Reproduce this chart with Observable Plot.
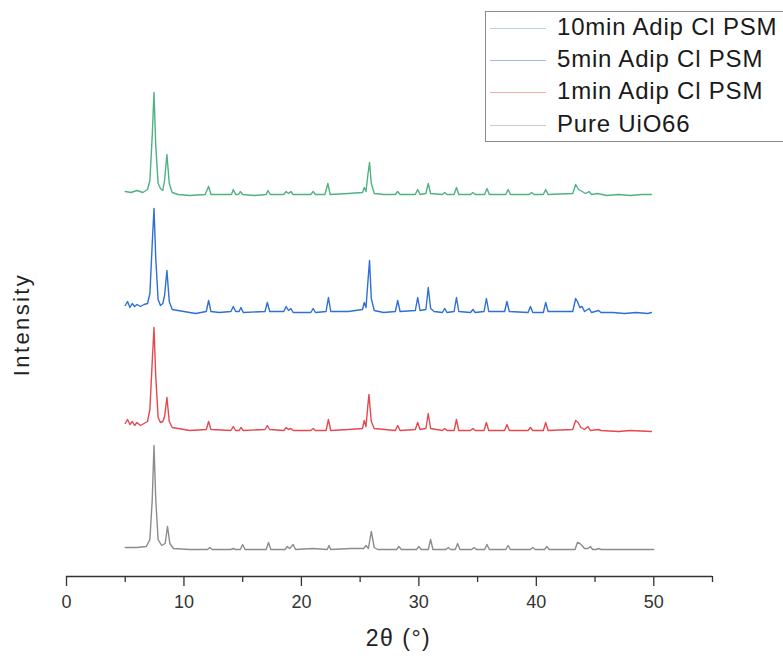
<!DOCTYPE html>
<html>
<head>
<meta charset="utf-8">
<script src="https://cdn.jsdelivr.net/npm/d3@7"></script>
<script src="https://cdn.jsdelivr.net/npm/@observablehq/plot@0.6"></script>
<style>
  html, body { margin: 0; padding: 0; background: #fff; overflow: hidden; }
  #wrap { position: relative; width: 783px; height: 658px; overflow: hidden; font-family: "Liberation Sans", Arial, sans-serif; }
  #legend { position: absolute; left: 485px; top: 11px; width: 320px; height: 131px; border: 1px solid #8a8a8a; box-sizing: border-box; background: #fff; }
  .item { position: absolute; left: 0; height: 30px; }
  .sw { position: absolute; left: 4px; width: 56px; top: 0; border-top: 1.3px solid; }
  .lab { position: absolute; left: 71px; top: -16px; font-size: 24px; letter-spacing: 0.8px; color: #1a1a1a; white-space: nowrap; line-height: 30px; }
</style>
</head>
<body>
<div id="wrap"><div id="chart"></div><div id="legend"></div></div>
<script>
// Series names (legend order, top to bottom)
const seriesNames = ["10min Adip Cl PSM", "5min Adip Cl PSM", "1min Adip Cl PSM", "Pure UiO66"];
// Vertical stacking offsets (a.u.)
const offsets = [381, 263, 145, 27];
// x-axis ticks
const xMajorTicks = [0, 10, 20, 30, 40, 50];
const xMinorTicks = [5, 15, 25, 35, 45, 55];

// [2θ (°), intensity (a.u.) above its baseline]
const min10 = [[5.0,4],[5.5,3],[6.0,5],[6.5,3],[6.9,6],[7.1,15],[7.3,60],[7.45,103],[7.6,50],[7.8,12],[8.0,7],[8.2,5],[8.35,15],[8.55,41],[8.75,12],[9.0,3],[9.5,1],[10.5,0],[11.8,1],[12.1,9],[12.3,1],[13.5,1],[14.05,1],[14.2,6],[14.4,1],[14.65,1],[14.8,4],[15.0,1],[16.0,0],[17.0,1],[17.15,5],[17.35,1],[18.5,1],[18.7,4],[18.9,2],[19.1,4],[19.3,1],[20.8,1],[21.0,4],[21.2,1],[22.0,1],[22.25,12],[22.45,1],[24.0,2],[25.2,3],[25.35,8],[25.5,4],[25.65,20],[25.8,33],[25.95,12],[26.2,2],[27.0,1],[28.0,1],[28.2,4],[28.4,1],[29.7,1],[29.9,6],[30.1,1],[30.6,2],[30.8,12],[31.0,2],[32.0,1],[32.2,3],[32.4,1],[33.0,1],[33.2,8],[33.4,1],[34.4,1],[34.6,3],[34.8,1],[35.6,1],[35.8,7],[36.0,1],[37.4,1],[37.6,6],[37.8,1],[39.4,1],[39.6,3],[39.8,1],[40.6,1],[40.8,6],[41.0,1],[43.1,2],[43.35,11],[43.6,6],[43.9,4],[44.2,2],[44.5,4],[44.7,1],[45.2,2],[46.0,0],[47.0,1],[48.0,0],[49.0,1],[49.8,1]];
const min5 = [[5.0,8],[5.2,12],[5.4,6],[5.6,10],[5.8,7],[6.0,9],[6.3,7],[6.6,9],[6.9,10],[7.1,20],[7.3,70],[7.45,105],[7.6,55],[7.8,14],[8.0,8],[8.2,10],[8.35,18],[8.55,43],[8.75,12],[9.0,4],[9.5,3],[10.5,1],[11.0,0],[11.9,2],[12.1,13],[12.3,2],[13.0,1],[14.0,2],[14.2,7],[14.4,2],[14.7,2],[14.85,6],[15.05,1],[16.9,2],[17.1,11],[17.3,2],[18.5,2],[18.7,7],[18.9,3],[19.1,5],[19.3,1],[20.8,1],[21.0,5],[21.2,1],[22.1,2],[22.3,16],[22.5,2],[24.0,2],[25.2,4],[25.35,11],[25.5,6],[25.65,30],[25.8,53],[25.95,15],[26.2,3],[27.0,1],[28.0,2],[28.2,13],[28.4,2],[29.7,3],[29.9,16],[30.1,3],[30.6,4],[30.8,26],[31.0,5],[31.3,2],[32.0,1],[32.2,5],[32.4,1],[33.0,2],[33.2,16],[33.4,2],[34.4,1],[34.6,4],[34.8,1],[35.55,2],[35.75,15],[35.95,2],[37.3,2],[37.5,12],[37.7,2],[39.3,1],[39.5,7],[39.7,1],[40.6,1],[40.8,11],[41.0,2],[43.1,2],[43.35,15],[43.5,12],[43.7,6],[43.9,7],[44.1,2],[44.5,5],[44.7,1],[45.3,3],[45.5,1],[46.5,1],[47.5,0],[48.5,1],[49.5,0],[49.8,1]];
const min1 = [[5.0,8],[5.2,12],[5.4,7],[5.6,10],[5.8,6],[6.0,9],[6.3,6],[6.6,8],[6.9,10],[7.1,22],[7.3,70],[7.45,104],[7.6,55],[7.8,14],[8.0,9],[8.2,10],[8.35,15],[8.55,34],[8.75,10],[9.0,4],[9.5,3],[10.5,1],[11.9,2],[12.1,10],[12.3,2],[14.0,1],[14.2,5],[14.4,1],[14.7,1],[14.85,4],[15.05,1],[16.9,2],[17.1,6],[17.3,2],[18.5,1],[18.7,4],[18.9,2],[19.1,3],[19.3,1],[20.8,1],[21.0,3],[21.2,1],[22.1,1],[22.3,12],[22.5,1],[24.0,2],[25.2,3],[25.35,11],[25.5,5],[25.65,25],[25.75,37],[25.95,10],[26.2,3],[28.0,1],[28.2,6],[28.4,1],[29.7,2],[29.9,9],[30.1,2],[30.6,3],[30.8,18],[31.0,3],[32.0,1],[32.2,3],[32.4,1],[33.0,1],[33.2,12],[33.4,1],[34.4,1],[34.6,3],[34.8,1],[35.55,1],[35.75,9],[35.95,1],[37.3,1],[37.5,7],[37.7,1],[39.3,1],[39.5,4],[39.7,1],[40.6,1],[40.8,9],[41.0,1],[43.1,2],[43.35,11],[43.55,9],[43.8,4],[44.1,2],[44.4,5],[44.6,1],[45.3,2],[45.5,1],[47.0,0],[48.0,1],[49.8,0]];
const pure = [[5.0,2],[6.0,2],[6.8,3],[7.1,10],[7.3,50],[7.45,104],[7.6,50],[7.8,10],[8.1,4],[8.4,6],[8.6,23],[8.8,6],[9.1,1],[10.5,0],[12.0,0],[12.2,2],[12.4,0],[14.0,0],[14.2,1],[14.4,0],[14.8,0],[15.0,5],[15.2,0],[17.0,0],[17.2,7],[17.4,0],[18.6,0],[18.8,3],[19.0,1],[19.3,5],[19.5,0],[21.0,1],[22.2,0],[22.35,4],[22.5,0],[24.2,1],[25.3,1],[25.5,4],[25.7,1],[25.95,18],[26.2,2],[26.5,0],[28.1,0],[28.3,3],[28.5,0],[29.8,0],[30.0,3],[30.2,0],[30.8,0],[31.0,10],[31.2,0],[32.3,0],[32.5,2],[32.7,0],[33.1,0],[33.3,6],[33.5,0],[34.5,0],[34.7,2],[34.9,0],[35.6,0],[35.8,5],[36.0,0],[37.4,0],[37.6,4],[37.8,0],[39.5,0],[39.7,2],[39.9,0],[40.7,0],[40.9,3],[41.1,0],[43.3,0],[43.5,7],[43.7,6],[43.9,4],[44.1,1],[44.4,1],[44.6,3],[44.8,0],[45.1,0],[45.3,1],[45.5,0],[50.0,0]];

const seriesData = [min10, min5, min1, pure];
const colors = ["#4fb282", "#2e6fd8", "#e5484f", "#8c8c8c"];

const rows = [];
seriesData.forEach((arr, i) => {
  arr.forEach(([x, v]) => rows.push({series: seriesNames[i], x, y: offsets[i] + v}));
});

const chart = Plot.plot({
  width: 783,
  height: 658,
  marginLeft: 66,
  marginRight: 71,
  marginTop: 0,
  marginBottom: 82,
  style: {fontFamily: "'Liberation Sans', Arial, sans-serif", color: "#333", background: "#fff"},
  x: {domain: [0, 55]},
  y: {domain: [0, 576], axis: null},
  color: {domain: seriesNames, range: colors},
  marks: [
    Plot.line(rows, {x: "x", y: "y", z: "series", stroke: "series", strokeWidth: 1.4}),
    Plot.ruleY([0], {stroke: "#333", strokeWidth: 1.5}),
    Plot.axisX({ticks: xMajorTicks, tickSize: 10, tickPadding: 9, fontSize: 18, label: null, stroke: "#333", strokeWidth: 1.3}),
    Plot.axisX({ticks: xMinorTicks, tickSize: 6, tickFormat: () => "", label: null, stroke: "#333", strokeWidth: 1.3}),
    Plot.text(["2θ (°)"], {frameAnchor: "bottom", dx: 9, dy: 69, fontSize: 23, fill: "#222", className: "xlab"}),
    Plot.text([252], {y: (d) => d, text: () => "Intensity", frameAnchor: "left", textAnchor: "middle", rotate: -90, dx: -45, fontSize: 22, fill: "#222", className: "ylab"})
  ]
});
document.getElementById("chart").appendChild(chart);
d3.select(chart).selectAll(".ylab text").attr("letter-spacing", "2.4px");
d3.select(chart).selectAll(".xlab text").attr("letter-spacing", "1.5px");

// Legend (real text)
const legend = document.getElementById("legend");
const itemTops = [16, 48, 80, 113];
seriesNames.forEach((name, i) => {
  const item = document.createElement("div");
  item.className = "item";
  item.style.top = itemTops[i] + "px";
  const sw = document.createElement("div");
  sw.className = "sw";
  sw.style.borderTopColor = colors[i];
  sw.style.opacity = 0.45;
  const lab = document.createElement("div");
  lab.className = "lab";
  lab.textContent = name;
  item.appendChild(sw);
  item.appendChild(lab);
  legend.appendChild(item);
});
</script>
</body>
</html>
